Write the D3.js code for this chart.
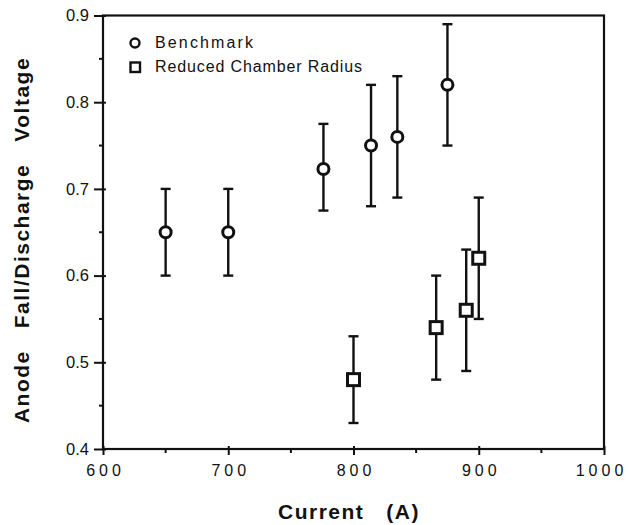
<!DOCTYPE html>
<html>
<head>
<meta charset="utf-8">
<script src="https://cdn.jsdelivr.net/npm/d3@7"></script>
<style>
  body { margin: 0; background: #fff; }
  text { font-family: "Liberation Sans", Arial, sans-serif; fill: #111; }
</style>
</head>
<body>
<div id="chart"></div>
<script>
// benchmark series
var benchCurrent = [650, 700, 776, 814, 835, 875],
    benchVolt    = [0.65, 0.65, 0.723, 0.75, 0.76, 0.82],
    benchLow     = [0.60, 0.60, 0.675, 0.68, 0.69, 0.75],
    benchHigh    = [0.70, 0.70, 0.775, 0.82, 0.83, 0.89];

// reduced chamber radius series
var redCurrent = [800, 866, 890, 900],
    redVolt    = [0.48, 0.54, 0.56, 0.62],
    redLow     = [0.43, 0.48, 0.49, 0.55],
    redHigh    = [0.53, 0.60, 0.63, 0.69];

var xTicks = [600, 700, 800, 900, 1000],
    yTicks = [0.4, 0.5, 0.6, 0.7, 0.8, 0.9];

var width = 629, height = 525;
var margin = {left: 103, right: 25, top: 15.5, bottom: 76};

var svg = d3.select("#chart").append("svg")
    .attr("width", width)
    .attr("height", height);

var x = d3.scaleLinear().domain([600, 1000]).range([margin.left, width - margin.right]);
var y = d3.scaleLinear().domain([0.4, 0.9]).range([height - margin.bottom, margin.top]);

// frame
svg.append("rect")
    .attr("x", x(600)).attr("y", y(0.9))
    .attr("width", x(1000) - x(600)).attr("height", y(0.4) - y(0.9))
    .attr("fill", "none").attr("stroke", "#111").attr("stroke-width", 2.2);

// x axis
var xAxis = svg.append("g").attr("transform", "translate(0," + y(0.4) + ")")
    .call(d3.axisBottom(x).tickValues(xTicks).tickSize(6).tickPadding(10)
        .tickFormat(d3.format("d")));
xAxis.select(".domain").remove();
xAxis.selectAll(".tick line").attr("stroke", "#111").attr("stroke-width", 2)
    .attr("y1", -3);
xAxis.selectAll(".tick text").attr("font-size", 16).attr("letter-spacing", "4px")
    .attr("dx", function(d) { return d === 1000 ? "-3px" : "2px"; });
svg.append("g").attr("transform", "translate(0," + y(0.4) + ")")
    .selectAll("line").data([650, 750, 850, 950]).enter().append("line")
    .attr("x1", function(d) { return x(d); }).attr("x2", function(d) { return x(d); })
    .attr("y1", 0).attr("y2", 4).attr("stroke", "#111").attr("stroke-width", 2);

// y axis
var yAxis = svg.append("g").attr("transform", "translate(" + x(600) + ",0)")
    .call(d3.axisLeft(y).tickValues(yTicks).tickSize(9).tickPadding(5)
        .tickFormat(d3.format(".1f")));
yAxis.select(".domain").remove();
yAxis.selectAll(".tick line").attr("stroke", "#111").attr("stroke-width", 2)
    .attr("x1", 3);
yAxis.selectAll(".tick text").attr("font-size", 16.5);
svg.append("g").attr("transform", "translate(" + x(600) + ",0)")
    .selectAll("line").data([0.45, 0.55, 0.65, 0.75, 0.85]).enter().append("line")
    .attr("y1", function(d) { return y(d); }).attr("y2", function(d) { return y(d); })
    .attr("x1", 0).attr("x2", -4).attr("stroke", "#111").attr("stroke-width", 2);

// axis titles
svg.append("text")
    .attr("x", 349).attr("y", 519)
    .attr("text-anchor", "middle")
    .attr("font-size", 21).attr("font-weight", "bold")
    .attr("letter-spacing", "1.5px")
    .style("white-space", "pre")
    .text("Current   (A)");

svg.append("text")
    .attr("transform", "translate(29,240) rotate(-90)")
    .attr("text-anchor", "middle")
    .attr("font-size", 21).attr("font-weight", "bold")
    .attr("letter-spacing", "1.5px")
    .style("white-space", "pre")
    .text("Anode   Fall/Discharge   Voltage");

// error bars
function errorBars(xs, lo, hi) {
    var g = svg.append("g").attr("stroke", "#111").attr("stroke-width", 2.4);
    xs.forEach(function(c, i) {
        g.append("line").attr("x1", x(c)).attr("x2", x(c))
            .attr("y1", y(lo[i])).attr("y2", y(hi[i]));
        g.append("line").attr("x1", x(c) - 5).attr("x2", x(c) + 5)
            .attr("y1", y(lo[i])).attr("y2", y(lo[i]));
        g.append("line").attr("x1", x(c) - 5).attr("x2", x(c) + 5)
            .attr("y1", y(hi[i])).attr("y2", y(hi[i]));
    });
}
errorBars(benchCurrent, benchLow, benchHigh);
errorBars(redCurrent, redLow, redHigh);

// markers
svg.append("g").selectAll("circle")
    .data(benchCurrent).enter().append("circle")
    .attr("cx", function(d) { return x(d); })
    .attr("cy", function(d, i) { return y(benchVolt[i]); })
    .attr("r", 5.5)
    .attr("fill", "#fff").attr("stroke", "#111").attr("stroke-width", 3);

svg.append("g").selectAll("rect")
    .data(redCurrent).enter().append("rect")
    .attr("x", function(d) { return x(d) - 6; })
    .attr("y", function(d, i) { return y(redVolt[i]) - 6; })
    .attr("width", 12).attr("height", 12)
    .attr("fill", "#fff").attr("stroke", "#111").attr("stroke-width", 3);

// legend
var legend = svg.append("g");
legend.append("circle").attr("cx", 135).attr("cy", 43).attr("r", 4.5)
    .attr("fill", "#fff").attr("stroke", "#111").attr("stroke-width", 2.4);
legend.append("rect").attr("x", 130.5).attr("y", 62.5).attr("width", 9.5).attr("height", 9.5)
    .attr("fill", "#fff").attr("stroke", "#111").attr("stroke-width", 2.4);
legend.append("text").attr("x", 155).attr("y", 48).attr("font-size", 16)
    .attr("textLength", 98).text("Benchmark");
legend.append("text").attr("x", 155).attr("y", 72).attr("font-size", 16)
    .attr("textLength", 207).text("Reduced Chamber Radius");
</script>
</body>
</html>
